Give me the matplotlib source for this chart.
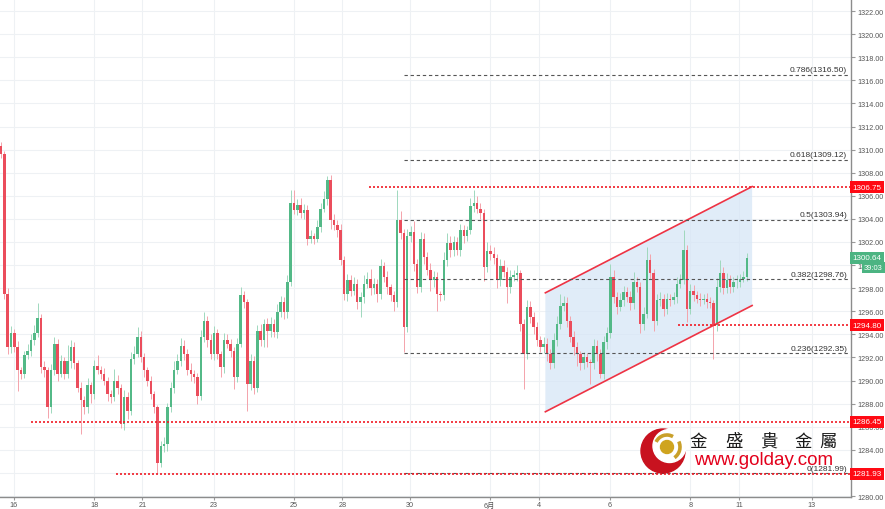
import numpy as np
import matplotlib
matplotlib.use('Agg')
import matplotlib.pyplot as plt
from matplotlib.patches import Circle, Polygon, Arc

plt.rcParams['font.family'] = ['Liberation Sans', 'Noto Sans CJK TC']

# 2-hour candles, open of each bar = previous close
first_open = 1310.3
closes = [
    1309.6, 1297.5, 1292.9, 1294.1, 1292.9, 1290.9, 1290.6, 1292.2, 1292.6, 1293.5, 1294.1, 1295.4, 1291.2, 1290.9, 1287.7,
    1290.9, 1293.2, 1290.6, 1291.7, 1290.6, 1291.7, 1292.9, 1291.5, 1289.4, 1288.3, 1287.7, 1289.6, 1288.8, 1291.3, 1290.9,
    1290.6, 1290.0, 1288.8, 1288.6, 1290.0, 1289.4, 1286.2, 1288.6, 1287.4, 1291.9, 1292.3, 1293.8, 1292.0, 1290.9, 1290.0,
    1288.8, 1287.7, 1282.9, 1284.3, 1284.5, 1287.7, 1289.4, 1290.9, 1291.7, 1293.0, 1292.3, 1290.9, 1290.6, 1290.3, 1288.7,
    1293.8, 1295.2, 1293.5, 1292.3, 1294.1, 1292.3, 1291.2, 1293.5, 1293.2, 1292.6, 1290.3, 1293.2, 1297.4, 1296.8, 1289.7,
    1291.7, 1289.4, 1294.3, 1293.5, 1294.9, 1294.3, 1294.9, 1294.2, 1295.9, 1296.8, 1295.9, 1298.5, 1305.4, 1304.8, 1305.2,
    1304.5, 1304.8, 1302.3, 1302.5, 1302.3, 1303.3, 1304.9, 1305.7, 1307.4, 1303.9, 1303.5, 1303.0, 1300.4, 1297.5, 1298.7,
    1297.8, 1298.4, 1296.8, 1297.2, 1298.4, 1298.8, 1298.0, 1298.4, 1297.5, 1299.9, 1299.0, 1298.1, 1297.4, 1296.8, 1303.9,
    1302.8, 1294.6, 1302.5, 1302.9, 1300.1, 1298.1, 1302.3, 1300.7, 1299.6, 1298.7, 1299.0, 1297.5, 1297.4, 1300.4, 1301.9,
    1301.3, 1302.0, 1301.3, 1303.0, 1302.5, 1303.0, 1305.1, 1305.4, 1304.9, 1304.5, 1299.8, 1301.2, 1301.0, 1300.6, 1298.7,
    1299.9, 1299.4, 1298.1, 1299.0, 1299.1, 1299.3, 1294.9, 1292.3, 1296.4, 1295.5, 1294.6, 1293.5, 1292.9, 1293.2, 1292.3,
    1291.5, 1293.5, 1294.9, 1296.5, 1296.7, 1295.2, 1293.8, 1292.9, 1292.3, 1291.5, 1292.0, 1291.6, 1291.5, 1293.0, 1292.3,
    1290.6, 1293.3, 1294.1, 1299.0, 1297.2, 1296.4, 1297.0, 1297.7, 1297.2, 1296.7, 1298.5, 1298.1, 1294.9, 1295.8, 1300.4,
    1299.3, 1295.2, 1297.0, 1297.1, 1296.2, 1297.1, 1297.0, 1297.2, 1298.4, 1298.7, 1301.3, 1296.2, 1297.8, 1297.4, 1297.1,
    1297.0, 1297.1, 1296.8, 1296.7, 1294.8, 1298.1, 1299.3, 1298.0, 1298.7, 1298.1, 1298.5, 1298.5, 1298.8, 1299.0, 1300.64,
]
wick_up = [
    0.4, 0.3, 0.5, 0.6, 0.4, 0.5, 0.3, 0.4, 0.6, 0.5, 0.7, 1.3, 0.4, 0.5, 0.3,
    0.5, 0.6, 0.4, 0.5, 0.3, 1.4, 0.6, 0.4, 0.3, 0.5, 0.4, 0.6, 0.3, 0.5, 0.9,
    0.4, 0.5, 0.3, 0.4, 1.0, 0.5, 0.3, 0.6, 0.4, 0.6, 0.7, 0.8, 0.5, 0.4, 0.3,
    0.4, 0.3, 0.2, 0.5, 0.6, 0.4, 0.5, 0.8, 0.6, 0.7, 0.5, 0.4, 0.6, 0.3, 0.4,
    0.6, 0.7, 0.4, 0.5, 0.6, 0.4, 0.3, 0.6, 0.5, 0.4, 0.3, 0.5, 0.7, 0.4, 0.3,
    0.6, 0.4, 0.5, 0.6, 0.4, 0.5, 0.6, 0.4, 0.7, 0.5, 0.4, 0.6, 1.1, 1.1, 0.5,
    0.6, 0.5, 0.4, 0.5, 0.3, 0.6, 0.5, 0.7, 0.3, 0.4, 0.5, 0.4, 0.6, 0.4, 0.5,
    0.4, 0.6, 0.4, 0.5, 0.7, 0.6, 0.9, 0.5, 0.4, 0.6, 0.4, 0.5, 0.3, 0.4, 2.6,
    0.8, 0.3, 0.6, 0.5, 0.9, 0.4, 0.6, 0.5, 0.4, 0.6, 0.5, 0.4, 0.3, 0.7, 0.9,
    0.6, 0.5, 0.4, 0.6, 0.5, 0.4, 0.7, 1.1, 0.6, 0.5, 0.4, 0.8, 0.5, 0.6, 0.4,
    0.6, 0.5, 0.4, 0.6, 0.5, 0.7, 0.3, 0.4, 0.6, 0.5, 0.4, 0.5, 0.4, 0.6, 0.5,
    0.4, 0.6, 0.7, 1.0, 0.6, 0.5, 0.4, 0.5, 0.4, 0.3, 0.5, 0.4, 0.3, 0.6, 0.5,
    0.4, 0.6, 0.5, 1.1, 0.6, 0.5, 0.6, 0.5, 0.4, 0.6, 0.9, 0.5, 0.4, 0.6, 1.2,
    0.6, 0.4, 0.5, 0.6, 0.4, 0.5, 0.4, 0.5, 0.6, 0.5, 1.7, 0.4, 0.6, 0.5, 0.4,
    0.5, 0.4, 0.5, 0.4, 0.3, 0.8, 1.1, 0.5, 0.6, 0.4, 0.5, 0.6, 0.4, 0.5, 0.4,
]
wick_dn = [
    0.3, 0.4, 0.6, 0.5, 0.4, 1.8, 0.5, 0.4, 0.3, 0.5, 0.4, 0.3, 0.5, 0.6, 0.9,
    0.5, 0.4, 0.6, 0.3, 0.5, 0.4, 0.6, 0.5, 0.4, 2.9, 0.6, 0.5, 0.7, 0.4, 0.3,
    0.5, 0.4, 0.6, 0.5, 0.4, 0.6, 0.3, 0.5, 0.7, 0.4, 0.5, 0.3, 0.4, 0.6, 0.5,
    0.4, 0.5, 1.0, 0.4, 0.5, 0.6, 0.4, 0.5, 0.3, 0.4, 0.5, 0.4, 0.6, 0.5, 0.7,
    0.4, 0.5, 0.6, 0.4, 0.5, 0.4, 0.9, 0.5, 0.4, 0.6, 1.0, 0.4, 0.3, 0.5, 2.3,
    0.5, 0.6, 0.4, 0.5, 0.6, 1.4, 0.5, 0.4, 0.5, 0.4, 0.6, 0.5, 0.3, 0.4, 0.5,
    0.4, 0.5, 0.6, 0.4, 0.5, 0.3, 0.4, 0.3, 0.5, 0.8, 0.5, 0.6, 0.4, 0.5, 0.6,
    0.5, 0.4, 0.6, 1.3, 0.5, 0.4, 0.6, 0.5, 0.7, 0.4, 0.5, 0.6, 0.5, 0.8, 0.4,
    0.5, 2.1, 0.4, 0.5, 0.6, 0.5, 0.4, 0.6, 0.5, 0.9, 0.6, 1.5, 0.5, 0.4, 0.5,
    0.6, 0.5, 0.4, 0.5, 0.6, 0.4, 0.3, 0.5, 0.4, 0.5, 1.2, 0.4, 0.6, 0.5, 0.7,
    0.5, 0.4, 1.4, 0.5, 0.4, 0.5, 0.6, 3.0, 0.4, 0.5, 0.6, 0.5, 0.4, 0.5, 0.6,
    0.5, 0.4, 0.5, 0.4, 0.5, 0.6, 0.5, 0.7, 1.0, 0.6, 0.5, 0.4, 1.8, 0.5, 0.6,
    0.4, 0.5, 0.6, 0.4, 0.5, 0.6, 0.4, 0.5, 0.4, 0.6, 0.5, 0.4, 0.8, 0.5, 0.4,
    0.5, 0.9, 0.4, 0.5, 0.6, 0.4, 0.5, 0.4, 0.5, 0.4, 0.3, 1.1, 0.4, 0.5, 0.4,
    0.5, 0.4, 0.5, 0.4, 2.9, 0.5, 0.4, 0.5, 0.4, 0.5, 0.4, 0.5, 0.4, 0.3, 0.4,
]

day_labels = ['16', '18', '21', '23', '25', '28', '30', '6月', '4', '6', '8', '11', '13']
day_pos = [3.8, 28.0, 42.5, 64.0, 88.0, 102.5, 122.8, 146.8, 161.5, 182.8, 207.0, 221.8, 243.5]

fib_ratio = ['0.786', '0.618', '0.5', '0.382', '0.236', '0']
fib_price = [1316.50, 1309.12, 1303.94, 1298.76, 1292.35, 1281.99]
fib_start = 121

sr_price = [1306.75, 1294.80, 1286.45, 1281.93]
sr_start = [110.4, 203.4, 9.0, 34.5]

chan_x = [163.5, 225.6]
chan_upper = [1297.6, 1306.8]
chan_lower = [1287.3, 1296.5]

last_price = 1300.64
countdown = '39:03'

UP, DOWN = '#53b987', '#eb4d5c'
RED = '#f01a24'

closes = np.array(closes)
opens = np.r_[first_open, closes[:-1]]
highs = np.maximum(opens, closes) + np.array(wick_up)
lows = np.minimum(opens, closes) - np.array(wick_dn)
idx = np.arange(len(closes))
rising = closes >= opens

fig = plt.figure(figsize=(8.85, 5.1), dpi=100)
ax = fig.add_axes([0, 12 / 510, 851 / 885, 498 / 510])
ax.set_xlim(-0.3, 255.3)
ax.set_ylim(1279.92, 1323.04)

# grid
ax.set_xticks(day_pos)
ax.set_xticklabels(day_labels)
ax.set_yticks(np.arange(1280, 1323, 2))
ax.yaxis.set_major_formatter(matplotlib.ticker.FormatStrFormatter('%.2f'))
ax.yaxis.tick_right()
ax.grid(color='#eef1f4', lw=0.8, zorder=0)
ax.set_axisbelow(True)
for s in ['left', 'top']:
    ax.spines[s].set_visible(False)
for s in ['right', 'bottom']:
    ax.spines[s].set_color('#8c8c8c')
    ax.spines[s].set_linewidth(1.0)
ax.tick_params(axis='both', labelsize=5.2, labelcolor='#555555', color='#999999')
ax.tick_params(axis='y', length=3, pad=1.5)
ax.tick_params(axis='x', length=2, pad=1.2)

# channel
poly = Polygon([(chan_x[0], chan_upper[0]), (chan_x[1], chan_upper[1]),
                (chan_x[1], chan_lower[1]), (chan_x[0], chan_lower[0])],
               closed=True, fc='#d6e6f6', ec='none', alpha=0.75, zorder=1)
ax.add_patch(poly)
ax.plot(chan_x, chan_upper, color='#ee3344', lw=1.2, zorder=4)
ax.plot(chan_x, chan_lower, color='#ee3344', lw=1.2, zorder=4)

# candles
wick_col = np.where(rising, '#9fd8bd', '#f4a3ab')
ax.vlines(idx, lows, highs, colors=wick_col, lw=0.7, zorder=2)
body_col = np.where(rising, UP, DOWN)
ax.bar(idx, np.maximum(np.abs(closes - opens), 0.06), bottom=np.minimum(opens, closes),
       width=0.75, color=body_col, lw=0, zorder=3)

# fibonacci levels
x_right = ax.get_xlim()[1]
for r, p in zip(fib_ratio, fib_price):
    ax.plot([fib_start, x_right - 0.9], [p, p], color='#555555', lw=0.8,
            dashes=(3, 2.5), zorder=4)
    ax.text(x_right - 1.2, p + 0.12, f'{r}({p:.2f})', ha='right', va='bottom',
            fontsize=6, color='#333333', zorder=5)

# support / resistance
for p, x0 in zip(sr_price, sr_start):
    ax.plot([x0, x_right], [p, p], color=RED, lw=1.2, dashes=(1.2, 1.2), zorder=4)


def price_tag(y, text, color, dx=0.8, size=5.8):
    ax.annotate(text, xy=(1, y), xycoords=('axes fraction', 'data'),
                xytext=(dx, 0), textcoords='offset points', ha='left', va='center',
                fontsize=size, color='white', annotation_clip=False, zorder=10,
                bbox=dict(boxstyle='square,pad=0.3', fc=color, ec='none'))


for p in sr_price:
    price_tag(p, f'{p:.2f}', '#ff0a14')
price_tag(last_price, f'{last_price:.2f}', '#4cb482')
price_tag(last_price - 0.85, countdown, '#4cb482', dx=9.5, size=5.4)

# logo overlay in pixel coordinates
lax = fig.add_axes([0, 0, 1, 1], zorder=5)
lax.set_xlim(0, 885)
lax.set_ylim(510, 0)
lax.axis('off')
lax.add_patch(Circle((663, 452), 22, color='#c8121f'))
lax.add_patch(Circle((669.5, 447), 16.5, color='white'))
lax.add_patch(Arc((667, 448), 24, 24, theta1=205, theta2=300, color='#c9a02a', lw=2.6))
lax.add_patch(Arc((667, 448), 26, 26, theta1=-25, theta2=55, color='#c9a02a', lw=2.6))
lax.add_patch(Circle((667, 448), 6.5, color='#cfa41f'))
for ch, cx in zip('金盛貴金屬', [698, 734, 769, 803, 828]):
    lax.text(cx, 442, ch, ha='center', va='center', fontsize=12.5, fontweight='medium',
             color='#1a1a1a', family='Noto Sans CJK TC')
lax.text(764, 461, 'www.golday.com', ha='center', va='center', fontsize=13.5,
         color='#e3001b', family='Liberation Sans')

fig.savefig('out.png', dpi=100)
